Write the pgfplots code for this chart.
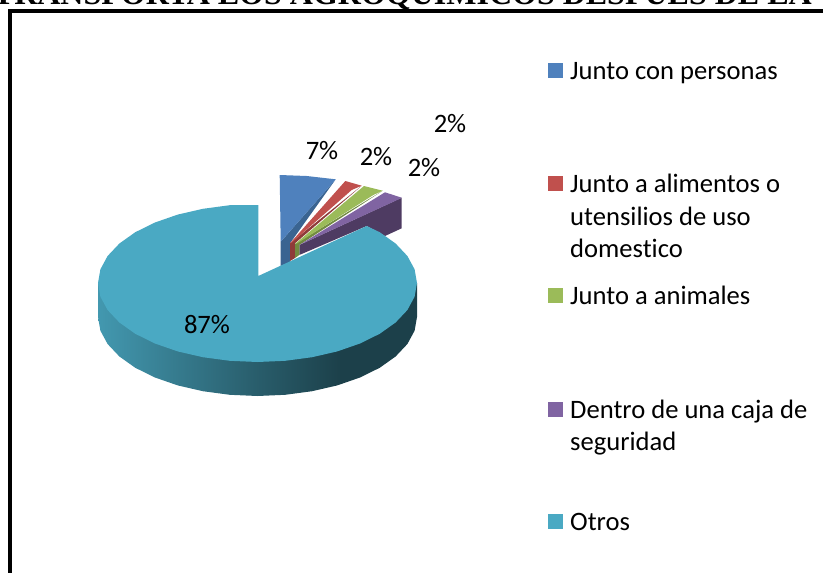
\documentclass[border=0pt]{standalone}
\usepackage{pgfplots}
\usepackage{fontspec}
\pgfplotsset{compat=1.18}
\setmainfont{Carlito}[Ligatures=NoCommon]
\newfontfamily\titlefont{Liberation Serif}
\definecolor{cblue}{HTML}{4F81BD}\definecolor{dblue}{HTML}{3A6491}
\definecolor{cred}{HTML}{C0504D}\definecolor{dred}{HTML}{8F3B39}
\definecolor{cgreen}{HTML}{9BBB59}\definecolor{dgreen}{HTML}{728B41}
\definecolor{cpurple}{HTML}{8064A2}\definecolor{dpurple}{HTML}{4E3B62}
\definecolor{cteal}{HTML}{4AA9C3}
\pgfdeclarehorizontalshading{tealside}{100bp}{
  color(0bp)=(cteal!90!black); color(25bp)=(cteal!90!black);
  color(50bp)=(cteal!55!black); color(63bp)=(cteal!38!black);
  color(100bp)=(cteal!38!black)}
\newcommand{\lbl}[2]{\node[anchor=base west,inner sep=0pt] at (axis cs:#1) {\fontsize{26.6}{30}\selectfont #2};}
\newcommand{\val}[2]{\node[inner sep=0pt] at (axis cs:#1) {\fontsize{26.6}{30}\selectfont #2};}
\begin{document}
\begin{tikzpicture}
\useasboundingbox (0,0) rectangle (823pt,573pt);
\clip (0,0) rectangle (823pt,573pt);
\begin{axis}[
at={(0,0)},anchor=south west,
scale only axis,width=823pt,height=573pt,
xmin=0,xmax=823,ymin=0,ymax=573,y dir=reverse,
axis lines=none,
every axis plot/.append style={no markers},
]
% frame
\addplot[black,line width=4.5pt] coordinates {(10,573) (10,11)};
\addplot[black,line width=3.2pt] coordinates {(8,11) (823,11)};
% exploded small slices: sides first
\addplot[fill=dblue,draw=none] coordinates {(335.7,179.3) (290,243.3) (290,262) (280.7,266) (280.7,241.7)} --cycle;
\addplot[fill=dpurple,draw=none] coordinates {(401.7,197.7) (401.7,228.3) (385,236) (366.7,226) (299.3,255) (299.3,245)} --cycle;
\addplot[fill=dred,draw=none] coordinates {(361.7,185.7) (295,243.3) (295,258) (290,261) (290,243.3)} --cycle;
\addplot[fill=dgreen,draw=none] coordinates {(382.7,190.7) (299.3,245) (299.3,255) (295,258) (295,244)} --cycle;
% slice tops
\addplot[fill=cblue,draw=none] coordinates {(279.7,175) (306.7,176) (335.7,179.3) (332.3,183.3) (280.7,241.7)} --cycle;
\addplot[fill=cred,draw=none] coordinates {(345.3,181) (361.7,185.7) (351.7,190) (291.7,242.7) (290,243.3)} --cycle;
\addplot[fill=cgreen,draw=none] coordinates {(364,186) (382.7,190.7) (373.3,195) (297.3,243.3) (295,244)} --cycle;
\addplot[fill=cpurple,draw=none] coordinates {(385,192.3) (401.7,197.7) (398.3,199.5) (299.3,245)} --cycle;
% big slice: side wall
\addplot[shading=tealside,draw=none] coordinates {(98,283) (98,317) (100.4,330.7) (107.6,344) (119.4,356.5) (135.3,367.8) (155,377.5) (177.7,385.4) (202.9,391.2) (229.8,394.8) (257.5,396) (285.2,394.8) (312.1,391.2) (337.3,385.4) (360,377.5) (379.7,367.8) (395.6,356.5) (407.4,344) (414.6,330.7) (417,317) (417,283)} --cycle;
% big slice: top
\addplot[fill=cteal,draw=none] coordinates {(258.3,276) (258.3,205) (229.8,205.2) (202.9,208.8) (177.7,214.6) (155,222.5) (135.3,232.2) (119.4,243.5) (107.6,256) (100.4,269.3) (98,283) (100.4,296.7) (107.6,310) (119.4,322.5) (135.3,333.8) (155,343.5) (177.7,351.4) (202.9,357.2) (229.8,360.8) (257.5,362) (285.2,360.8) (312.1,357.2) (337.3,351.4) (360,343.5) (379.7,333.8) (395.6,322.5) (407.4,310) (414.6,296.7) (417,283) (414.6,269.3) (407.4,256) (395.6,243.5) (379.7,232.2) (366.7,226)} --cycle;
% legend keys
\addplot[fill=cblue,draw=none] coordinates {(548,63) (563,63) (563,78) (548,78)} --cycle;
\addplot[fill=cred,draw=none] coordinates {(548,176) (563,176) (563,191) (548,191)} --cycle;
\addplot[fill=cgreen,draw=none] coordinates {(548,288) (563,288) (563,303) (548,303)} --cycle;
\addplot[fill=cpurple,draw=none] coordinates {(548,402) (563,402) (563,417) (548,417)} --cycle;
\addplot[fill=cteal,draw=none] coordinates {(548,514) (563,514) (563,529) (548,529)} --cycle;
\val{322,151}{7\%}
\val{376,157}{2\%}
\val{424,168}{2\%}
\val{450,124}{2\%}
\val{207,325}{87\%}
\lbl{570,79}{Junto con personas}
\lbl{570,192}{Junto a alimentos o}
\lbl{570,225}{utensilios de uso}
\lbl{570,257}{domestico}
\lbl{570,304}{Junto a animales}
\lbl{570,418}{Dentro de una caja de}
\lbl{570,450}{seguridad}
\lbl{570,530}{Otros}
\node[anchor=base east,inner sep=0pt] at (axis cs:812,4) {\titlefont\bfseries\fontsize{32}{34}\selectfont TRANSPORTA LOS AGROQUÍMICOS DESPUÉS DE LA};
\end{axis}
\end{tikzpicture}
\end{document}
